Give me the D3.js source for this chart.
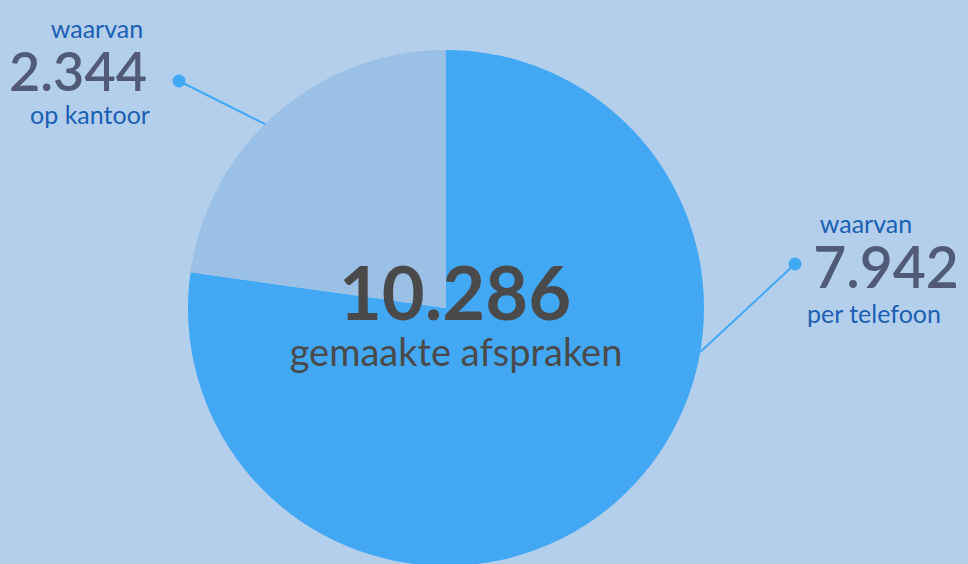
<!DOCTYPE html>
<html><head><meta charset="utf-8">
<script src="https://cdn.jsdelivr.net/npm/d3@7"></script>
<style>html,body{margin:0;padding:0;background:#b3cfec;overflow:hidden}svg{display:block}</style>
</head><body>
<svg id="chart" width="968" height="564"></svg>
<script>
const categories = ["per telefoon", "op kantoor"];
const values = [7942, 2344];
const totalLabel = "10.286";
const totalCaption = "gemaakte afspraken";
const valueLabels = ["7.942", "2.344"];
const prefix = "waarvan";

const W = 968, H = 564;
const cx = 446, cy = 308, R = 258;
const colors = ["#42a8f4", "#9ac0e5"];
const font = "Lato, 'Open Sans', sans-serif";

const svg = d3.select("#chart");
svg.append("rect").attr("width", W).attr("height", H).attr("fill", "#b3cfec");

const pie = d3.pie().sort(null).value(d => d)(values);
const arc = d3.arc().innerRadius(0).outerRadius(R);
const g = svg.append("g").attr("transform", `translate(${cx},${cy})`);
g.selectAll("path").data(pie).join("path").attr("d", arc).attr("fill", (d, i) => colors[i]);

// leader lines
const leaders = [
  {i: 0, dot: [795, 264], edge: [700, 352]},
  {i: 1, dot: [179, 81], edge: [266, 125]}
];
leaders.forEach(l => {
  const ang = Math.atan2(l.edge[1] - cy, l.edge[0] - cx);
  const ex = cx + R * Math.cos(ang), ey = cy + R * Math.sin(ang);
  svg.append("line").attr("x1", l.dot[0]).attr("y1", l.dot[1]).attr("x2", ex).attr("y2", ey)
    .attr("stroke", "#42a8f4").attr("stroke-width", 2);
  svg.append("circle").attr("cx", l.dot[0]).attr("cy", l.dot[1]).attr("r", 6.5).attr("fill", "#42a8f4");
});

function txt(x, y, s, size, color, weight, anchor) {
  return svg.append("text").attr("x", x).attr("y", y).attr("text-anchor", anchor || "middle")
    .attr("font-family", font).attr("font-size", size).attr("font-weight", weight || 400)
    .attr("fill", color).text(s);
}
// left label
txt(97, 38, prefix, 25, "#1b5fb5", 400);
txt(78, 91, valueLabels[1], 54, "#515b78", 600);
txt(90, 124, categories[1], 25, "#1b5fb5", 400);
// right label
txt(866, 233, prefix, 25, "#1b5fb5", 400);
txt(886, 288, valueLabels[0], 57, "#515b78", 600);
txt(874, 323, categories[0], 25, "#1b5fb5", 400);
// center
txt(455, 320, totalLabel, 74, "#4a4a4a", 700);
txt(456, 366, totalCaption, 38, "#4a4a4a", 400);
</script>
</body></html>
